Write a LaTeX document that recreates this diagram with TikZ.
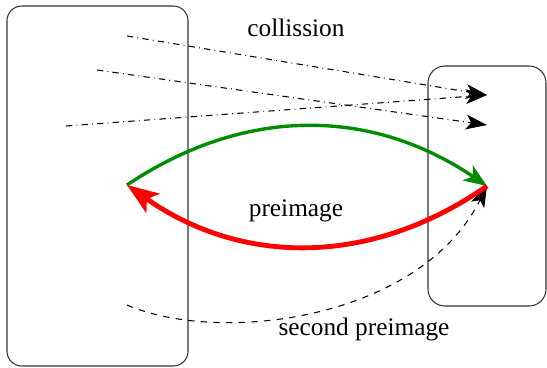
\documentclass[tikz,border=0pt]{standalone}
\usepackage{fontspec}
\setmainfont{Liberation Serif}
\usetikzlibrary{arrows.meta, fit}
\definecolor{boxgray}{HTML}{333333}
\definecolor{hashgreen}{HTML}{008C00}
\definecolor{hashred}{HTML}{FF0000}

\begin{document}
\begin{tikzpicture}[
    x=0.474pt, y=-0.474pt,
    every node/.style={font=\fontsize{12}{14}\selectfont},
    domainbox/.style={draw=boxgray, line width=0.5pt, rounded corners=7pt, inner sep=0pt},
    collide/.style={dash dot, line width=0.5pt, -{Stealth[length=10pt, width=7pt, inset=2.5pt]}},
    forward/.style={draw=hashgreen, line width=1.6pt, -{Stealth[length=11pt, width=8.5pt, inset=3pt]}},
    backward/.style={draw=hashred, line width=2.3pt, -{Stealth[length=15pt, width=11pt, inset=3.5pt]}},
    second/.style={dashed, line width=0.5pt, -{Stealth[length=10pt, width=7pt, inset=2.5pt]}},
]

\useasboundingbox (0,0) rectangle (547,367);

% Domain and range
\node[domainbox, fit={(7,6) (188,366)}] (domain) {};
\node[domainbox, rounded corners=8pt, fit={(428,66) (546,306)}] (range) {};

% Points
\coordinate (x) at (127,185);
\coordinate (y) at (487,186);
\coordinate (x2) at (127,305);
\coordinate (c1) at (127,36);
\coordinate (c2) at (97,70);
\coordinate (c3) at (66,126);
\coordinate (h1) at (487,95);
\coordinate (h2) at (487,125);

% Collisions
\draw[collide] (c1) -- (h1);
\draw[collide] (c2) -- (h2);
\draw[collide] (c3) -- (h1);
\node (lcol) at (296,28) {collission};

% Second preimage
\draw[second] (x2) .. controls (220,345) and (420,320) .. (y);
\node (lsec) at (364,329) {second preimage};

% Hash and preimage
\draw[forward] (x) to[bend left=34] (y);
\draw[backward] (y) to[bend left=35] (x);
\node (lpre) at (296,211) {preimage};

\end{tikzpicture}
\end{document}
